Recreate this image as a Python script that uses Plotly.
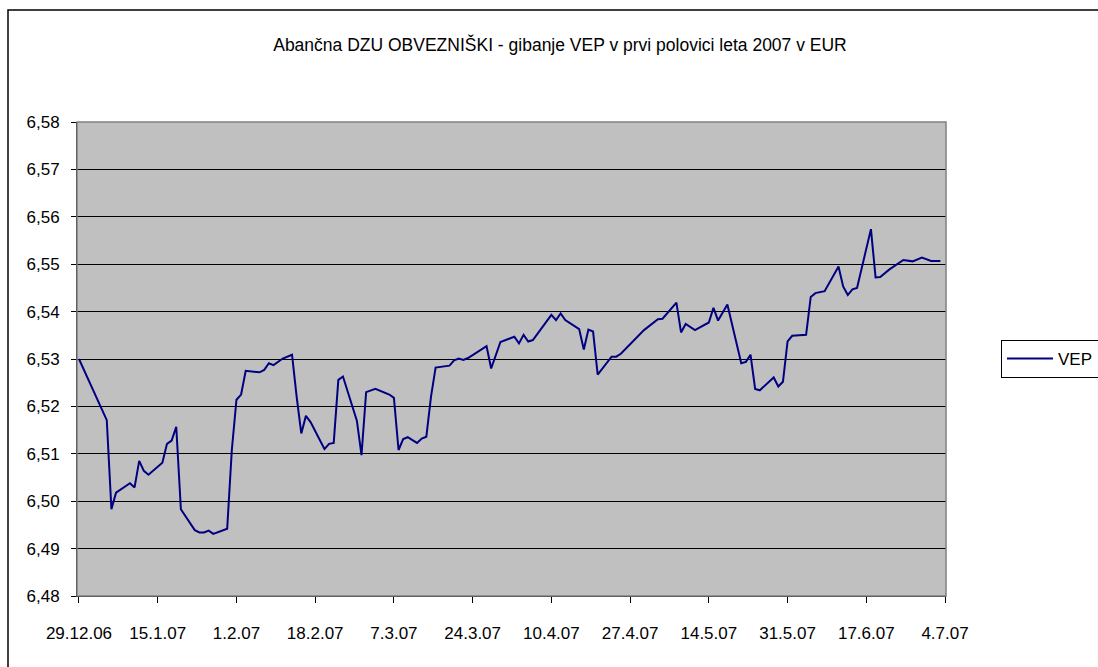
import plotly.graph_objects as go

dates = [
    "2006-12-29", "2007-01-04", "2007-01-05", "2007-01-06", "2007-01-09", "2007-01-10",
    "2007-01-11", "2007-01-12", "2007-01-13", "2007-01-16", "2007-01-17", "2007-01-18",
    "2007-01-19", "2007-01-20", "2007-01-23", "2007-01-24", "2007-01-25", "2007-01-26",
    "2007-01-27", "2007-01-30", "2007-01-31", "2007-02-01", "2007-02-02", "2007-02-03",
    "2007-02-06", "2007-02-07", "2007-02-08", "2007-02-09", "2007-02-11", "2007-02-13",
    "2007-02-14", "2007-02-15", "2007-02-16", "2007-02-17", "2007-02-20", "2007-02-21",
    "2007-02-22", "2007-02-23", "2007-02-24", "2007-02-27", "2007-02-28", "2007-03-01",
    "2007-03-03", "2007-03-06", "2007-03-07", "2007-03-08", "2007-03-09", "2007-03-10",
    "2007-03-11", "2007-03-12", "2007-03-13", "2007-03-14", "2007-03-15", "2007-03-16",
    "2007-03-19", "2007-03-20", "2007-03-21", "2007-03-22", "2007-03-23", "2007-03-27",
    "2007-03-28", "2007-03-30", "2007-04-02", "2007-04-03", "2007-04-04", "2007-04-05",
    "2007-04-06", "2007-04-10", "2007-04-11", "2007-04-12", "2007-04-13", "2007-04-16",
    "2007-04-17", "2007-04-18", "2007-04-19", "2007-04-20", "2007-04-23", "2007-04-24",
    "2007-04-25", "2007-04-30", "2007-05-03", "2007-05-04", "2007-05-07", "2007-05-08",
    "2007-05-09", "2007-05-11", "2007-05-14", "2007-05-15", "2007-05-16", "2007-05-18",
    "2007-05-21", "2007-05-22", "2007-05-23", "2007-05-24", "2007-05-25", "2007-05-28",
    "2007-05-29", "2007-05-30", "2007-05-31", "2007-06-01", "2007-06-04", "2007-06-05",
    "2007-06-06", "2007-06-08", "2007-06-11", "2007-06-12", "2007-06-13", "2007-06-14",
    "2007-06-15", "2007-06-18", "2007-06-19", "2007-06-20", "2007-06-22", "2007-06-25",
    "2007-06-27", "2007-06-29", "2007-07-01", "2007-07-03",
]

vep = [
    6.5300, 6.5171, 6.4983, 6.5018, 6.5038, 6.5029,
    6.5085, 6.5064, 6.5056, 6.5081, 6.5121, 6.5128,
    6.5157, 6.4983, 6.4939, 6.4934, 6.4934, 6.4938,
    6.4931, 6.4942, 6.5108, 6.5214, 6.5225, 6.5275,
    6.5272, 6.5277, 6.5291, 6.5287, 6.5301, 6.5309,
    6.5220, 6.5143, 6.5180, 6.5167, 6.5110, 6.5121,
    6.5123, 6.5256, 6.5263, 6.5170, 6.5097, 6.5230,
    6.5237, 6.5225, 6.5218, 6.5108, 6.5131, 6.5135,
    6.5129, 6.5123, 6.5132, 6.5136, 6.5220, 6.5282,
    6.5286, 6.5297, 6.5301, 6.5298, 6.5302, 6.5327,
    6.5280, 6.5336, 6.5347, 6.5333, 6.5351, 6.5337,
    6.5340, 6.5393, 6.5382, 6.5396, 6.5382, 6.5363,
    6.5320, 6.5362, 6.5358, 6.5267, 6.5305, 6.5305,
    6.5311, 6.5361, 6.5384, 6.5385, 6.5419, 6.5356,
    6.5374, 6.5361, 6.5377, 6.5408, 6.5381, 6.5415,
    6.5291, 6.5294, 6.5309, 6.5237, 6.5234, 6.5261,
    6.5242, 6.5252, 6.5337, 6.5349, 6.5351, 6.5431,
    6.5439, 6.5443, 6.5495, 6.5453, 6.5435, 6.5447,
    6.5450, 6.5574, 6.5472, 6.5473, 6.5489, 6.5509,
    6.5506, 6.5514, 6.5507, 6.5507,
]

title_text = "Abančna DZU OBVEZNIŠKI - gibanje VEP v prvi polovici leta 2007 v EUR"
series_name = "VEP"

FONT = "Liberation Sans, Arial, sans-serif"

fig = go.Figure()
fig.add_trace(go.Scatter(
    x=dates, y=vep, mode="lines", name=series_name,
    line=dict(color="#000080", width=2),
    showlegend=True,
))

W, H = 1098, 667
L, R, T, B = 77, 152, 122, 71
PW, PH = W - L - R, H - T - B

fig.update_layout(
    width=W, height=H,
    margin=dict(l=L, r=R, t=T, b=B, autoexpand=False),
    paper_bgcolor="white",
    plot_bgcolor="#C0C0C0",
    separators=",.",
    font=dict(family=FONT, size=17, color="black"),
    title=dict(
        text=title_text, xref="container", yref="container",
        x=0.51, y=1 - 45 / H, xanchor="center", yanchor="middle",
        font=dict(family=FONT, size=17.5, color="black"),
    ),
    legend=dict(
        x=(1001 - L) / PW, y=(H - B - 359) / PH,
        xanchor="left", yanchor="middle",
        bordercolor="black", borderwidth=1, bgcolor="white",
        font=dict(family=FONT, size=17, color="black"),
        itemwidth=46,
    ),
    xaxis=dict(
        type="date",
        range=["2006-12-28 13:40", "2007-07-04 05:00"],
        tick0="2006-12-29", dtick=17 * 86400000,
        tickformat="%-d.%-m.%y",
        ticks="outside", ticklen=6, tickcolor="black", tickwidth=1,
        showgrid=False, zeroline=False,
        showline=True, linecolor="black", linewidth=1,
        ticklabelstandoff=16, automargin=False,
        tickfont=dict(family=FONT, size=17, color="black"),
    ),
    yaxis=dict(
        range=[6.48, 6.58], dtick=0.01, tick0=6.48,
        tickformat=".2f",
        ticks="outside", ticklen=5, tickcolor="black", tickwidth=1,
        showgrid=True, gridcolor="black", gridwidth=1,
        zeroline=False,
        showline=True, linecolor="black", linewidth=1,
        ticklabelstandoff=8, automargin=False,
        tickfont=dict(family=FONT, size=17, color="black"),
    ),
    shapes=[
        dict(type="rect", xref="paper", yref="paper", x0=0, x1=1, y0=0, y1=1,
             line=dict(color="#808080", width=1.5), fillcolor="rgba(0,0,0,0)", layer="above"),
        dict(type="rect", xref="paper", yref="paper",
             x0=(8 - L) / PW, x1=(1120 - L) / PW,
             y0=(H - B - 700) / PH, y1=(H - B - 10) / PH,
             line=dict(color="black", width=1.5), fillcolor="rgba(0,0,0,0)", layer="above"),
    ],
)

fig.write_html(
    "out.html",
    config={"displayModeBar": False},
    post_script="document.body.style.margin='0';document.body.style.overflow='hidden';",
)
